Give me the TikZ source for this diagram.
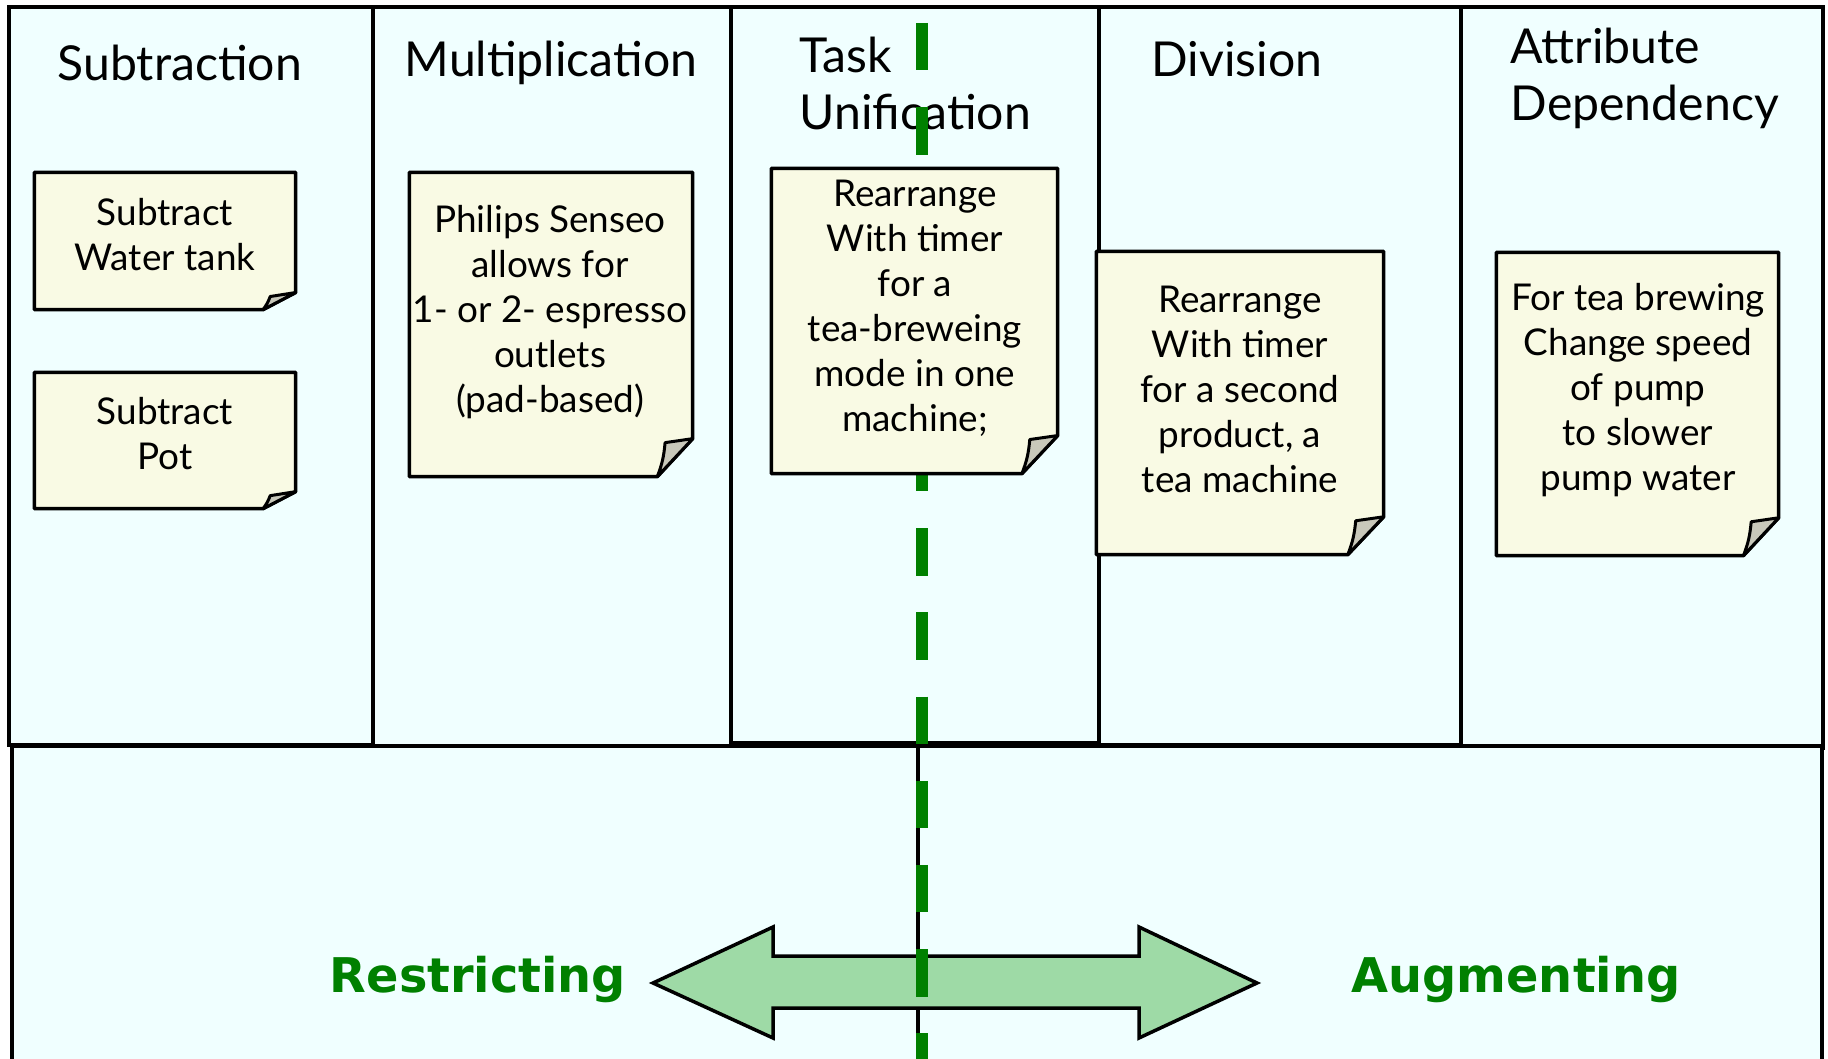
\documentclass[tikz,border=0pt]{standalone}
\usepackage{fontspec}
\setmainfont{Lato}
\newfontfamily\dejavu{DejaVu Sans}
\usepackage{tikz}
\usetikzlibrary{calc}
\definecolor{panelfill}{RGB}{240,255,255}
\definecolor{notefill}{RGB}{249,250,228}
\definecolor{flapfill}{RGB}{200,200,186}
\definecolor{arrowfill}{RGB}{158,218,166}
\definecolor{darkgreen}{RGB}{0,128,0}
\tikzstyle{panel}=[draw=black,fill=panelfill,line width=0.35mm]
\tikzset{head/.style={anchor=base west,inner sep=0,align=left,font=\fontsize{13.7}{16.4}\selectfont}}
\tikzset{notebox/.style={rectangle,inner sep=0,draw=none}}
\tikzset{notebody/.style={draw=black,fill=notefill,line width=0.35mm,line join=round}}
\tikzset{noteflap/.style={draw=black,fill=flapfill,line width=0.3mm,line join=round}}
\tikzset{notetext/.style={align=center,inner sep=0,font=\fontsize{10.5}{12.8}\selectfont}}
\tikzset{sidelabel/.style={anchor=base,inner sep=0,text=darkgreen,font=\dejavu\bfseries\fontsize{13.6}{16}\selectfont}}
\tikzset{splitline/.style={draw=darkgreen,line width=1.2mm,dash pattern=on 4.75mm off 3.67mm}}
% sticky note with folded corner, drawn over node #1
\newcommand{\notefold}[1]{%
  \coordinate (#1-a) at ($(#1.south east)!0.125!(#1.south west)$);
  \coordinate (#1-b) at ($(#1.south east)!0.125!(#1.north east)$);
  \draw[notebody] (#1.north west) -- (#1.north east) -- (#1-b) -- (#1-a) -- (#1.south west) -- cycle;
  \draw[noteflap] (#1-a) to[bend right=8] ($(#1-a |- #1-b)!0.22!(#1-b)+(0,4)$) -- (#1-b) -- cycle;
}

\begin{document}
\begin{tikzpicture}[x=0.1mm,y=-0.1mm]

\useasboundingbox (0,0) rectangle (1828,1059);
\clip (0,0) rectangle (1828,1059);

% columns
\draw[panel] (9,7) rectangle (373,745);
\draw[panel] (373,7) rectangle (731,746);
\draw[panel] (731,7) rectangle (1099,743);
\draw[panel] (1099,7) rectangle (1461,745);
\draw[panel] (1461,7) rectangle (1823,748);

% lower band
\draw[panel] (12,746) rectangle (1822,1075);
\draw[line width=0.35mm] (918,746) -- (918,1075);

\node[head] (sub) at (57,81) {Subtraction};
\node[head] (mult) at (404,77) {Multiplication};
\node[head] (task) at (799,130) {Task\\Unification};
\node[head] (div) at (1151,77) {Division};
\node[head] (attr) at (1510,121) {Attribute\\Dependency};

% notes
\node[notebox,minimum width=26mm,minimum height=13.6mm] (water) at (165,241) {};
\notefold{water}
\node[notetext] (watertxt) at (165,235) {Subtract\\Water tank};

\node[notebox,minimum width=26mm,minimum height=13.5mm] (pot) at (165,440.5) {};
\notefold{pot}
\node[notetext] (pottxt) at (165,434) {Subtract\\Pot};

\node[notebox,minimum width=28.2mm,minimum height=30.3mm] (philips) at (551,324.5) {};
\notefold{philips}
\node[notetext] (philipstxt) at (550,312) {Philips Senseo\\allows for\\1- or 2- espresso\\outlets\\(pad-based)};

\node[notebox,minimum width=28.6mm,minimum height=30.2mm] (second) at (1240,403) {};
\notefold{second}
\node[notetext] (secondtxt) at (1240,389) {Rearrange\\With timer\\for a second\\product, a\\tea machine};

\node[notebox,minimum width=28.1mm,minimum height=30.2mm] (pump) at (1637.5,404) {};
\notefold{pump}
\node[notetext] (pumptxt) at (1638,390) {For tea brewing\\Change speed\\of pump\\to slower\\pump water};

% double arrow
\draw[draw=black,fill=arrowfill,line width=0.35mm,line join=miter]
  (653,983) -- (773,927) -- (773,956) -- (1139,956) -- (1139,927) -- (1257,983)
  -- (1139,1038) -- (1139,1008) -- (773,1008) -- (773,1038) -- cycle;

\node[sidelabel] (restr) at (478,992) {Restricting};
\node[sidelabel] (augm) at (1516,992) {Augmenting};

\draw[splitline] (922,23) -- (922,1075);

% this note sits over the dashed line
\node[notebox,minimum width=28.5mm,minimum height=30.4mm] (tea) at (914.5,321) {};
\notefold{tea}
\node[notetext] (teatxt) at (915,308) {Rearrange\\With timer\\for a\\tea-breweing\\mode in one\\machine;};

\end{tikzpicture}
\end{document}
